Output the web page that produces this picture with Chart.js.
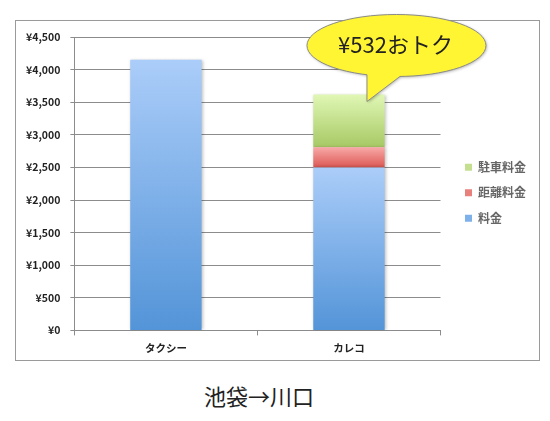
<!DOCTYPE html>
<html>
<head>
<meta charset="utf-8">
<script src="https://cdn.jsdelivr.net/npm/chart.js@4"></script>
<style>
  body { margin: 0; background: #fff; }
  #wrap { position: absolute; left: 0; top: 0; width: 550px; height: 372px; }
  #caption {
    position: absolute; left: 0; top: 382px; width: 518px;
    text-align: center; font: 22px/26px "Noto Sans CJK JP", sans-serif; color: #222;
  }
</style>
</head>
<body>
<div id="wrap"><canvas id="fareChart"></canvas></div>
<div id="caption">池袋→川口</div>
<script>
// Fare comparison data
const categories = ['タクシー', 'カレコ'];
const fare = [4150, 2500];      // 料金
const distanceFee = [0, 310];   // 距離料金
const parkingFee = [0, 808];    // 駐車料金
const yTicks = [0, 500, 1000, 1500, 2000, 2500, 3000, 3500, 4000, 4500];

const totals = categories.map((_, i) => fare[i] + distanceFee[i] + parkingFee[i]);
const savings = totals[0] - totals[1];

// Vertical gradient over one stacked segment
function segmentGradient(topColor, bottomColor) {
    return function (ctx) {
        const chart = ctx.chart;
        if (!chart.chartArea || ctx.dataIndex === undefined) return bottomColor;
        const y = chart.scales.y;
        const sets = chart.data.datasets;
        let base = 0;
        for (let k = 0; k < ctx.datasetIndex; k++) base += sets[k].data[ctx.dataIndex];
        const top = base + sets[ctx.datasetIndex].data[ctx.dataIndex];
        const y0 = y.getPixelForValue(top);
        const y1 = y.getPixelForValue(base);
        if (!(y1 > y0)) return bottomColor;
        const g = chart.ctx.createLinearGradient(0, y0, 0, y1);
        g.addColorStop(0, topColor);
        g.addColorStop(1, bottomColor);
        return g;
    };
}

// Outer frame around the plot + legend
const framePlugin = {
    id: 'frame',
    beforeDraw(chart) {
        const c = chart.ctx;
        c.save();
        c.strokeStyle = '#9a9a9a';
        c.lineWidth = 1;
        c.strokeRect(15.5, 20.5, 524, 340);
        c.restore();
    }
};

// Soft shadow under the bars
const shadowPlugin = {
    id: 'barShadow',
    beforeDatasetsDraw(chart) {
        const c = chart.ctx;
        c.save();
        c.shadowColor = 'rgba(0,0,0,0.25)';
        c.shadowBlur = 3;
        c.shadowOffsetX = 1;
    },
    afterDatasetsDraw(chart) {
        chart.ctx.restore();
    }
};

// Speech bubble above the カレコ bar
const bubblePlugin = {
    id: 'bubble',
    afterDraw(chart) {
        const bar = chart.getDatasetMeta(2).data[1];
        if (!bar) return;
        const c = chart.ctx;
        const cx = bar.x + 47.5, cy = bar.y - 49, rx = 89.5, ry = 31;
        const edgeY = dx => cy + ry * Math.sqrt(1 - (dx / rx) * (dx / rx));
        const lx = bar.x + 18, rxp = bar.x + 51;
        const tip = { x: bar.x + 18, y: bar.y + 7 };
        const ly = edgeY(lx - cx), ry2 = edgeY(rxp - cx);

        c.save();
        c.fillStyle = '#fff533';
        c.strokeStyle = '#8a8a8a';
        c.lineWidth = 1;
        c.shadowColor = 'rgba(0,0,0,0.3)';
        c.shadowBlur = 3;
        c.shadowOffsetX = 1;
        c.shadowOffsetY = 1;
        c.beginPath();
        c.ellipse(cx, cy, rx, ry, 0, 0, Math.PI * 2);
        c.moveTo(lx, ly);
        c.lineTo(tip.x, tip.y);
        c.lineTo(rxp, ry2);
        c.fill();
        c.shadowColor = 'transparent';
        c.beginPath();
        c.ellipse(cx, cy, rx, ry, 0, 0, Math.PI * 2);
        c.stroke();
        // tail, covering the ellipse outline at its base
        c.beginPath();
        c.moveTo(lx, ly - 4);
        c.lineTo(lx, ly);
        c.lineTo(tip.x, tip.y);
        c.lineTo(rxp, ry2);
        c.lineTo(rxp, ry2 - 4);
        c.closePath();
        c.fill();
        c.beginPath();
        c.moveTo(lx, ly);
        c.lineTo(tip.x, tip.y);
        c.lineTo(rxp, ry2);
        c.stroke();

        c.fillStyle = '#222';
        c.font = '22px "Noto Sans CJK JP", sans-serif';
        c.textAlign = 'center';
        c.textBaseline = 'middle';
        c.fillText('¥' + savings + 'おトク', cx - 1, cy - 1);
        c.restore();
    }
};

const tickFont = { family: '"Noto Sans CJK JP", sans-serif', size: 10.5, weight: 'bold' };

new Chart(document.getElementById('fareChart'), {
    type: 'bar',
    data: {
        labels: categories,
        datasets: [
            { label: '料金', data: fare, backgroundColor: segmentGradient('#abcdf9', '#5394d8'), legendColor: '#7eb0ea' },
            { label: '距離料金', data: distanceFee, backgroundColor: segmentGradient('#f8aaa8', '#dc5854'), legendColor: '#e8807c' },
            { label: '駐車料金', data: parkingFee, backgroundColor: segmentGradient('#e0f7b5', '#a7c964'), legendColor: '#c3df8f' }
        ]
    },
    options: {
        responsive: true,
        maintainAspectRatio: false,
        animation: false,
        layout: { padding: { left: 16, top: 37, right: 14, bottom: 12 } },
        datasets: { bar: { categoryPercentage: 1, barPercentage: 0.39 } },
        scales: {
            x: {
                stacked: true,
                grid: { offset: true, drawOnChartArea: false, tickLength: 5, color: '#8c8c8c' },
                border: { color: '#8c8c8c' },
                ticks: { font: tickFont, color: '#222', padding: 6 }
            },
            y: {
                stacked: true,
                min: 0,
                max: 4500,
                afterBuildTicks: scale => { scale.ticks = yTicks.map(v => ({ value: v })); },
                grid: { color: '#8c8c8c', tickLength: 4 },
                border: { color: '#8c8c8c' },
                ticks: {
                    font: tickFont,
                    color: '#222',
                    padding: 10,
                    callback: v => '¥' + v.toLocaleString('en-US')
                }
            },
            spacer: {
                position: 'right',
                grid: { display: false },
                border: { display: false },
                ticks: { display: false },
                afterFit: s => { s.width = 11; }
            }
        },
        plugins: {
            legend: {
                position: 'right',
                fullSize: false,
                reverse: true,
                // blank title only nudges the entries down a little
                title: { display: true, text: ' ', font: { size: 10 }, padding: { top: 0, bottom: 6 } },
                labels: {
                    boxWidth: 7,
                    boxHeight: 7,
                    padding: 13.5,
                    color: '#222',
                    font: { family: '"Noto Sans CJK JP", sans-serif', size: 12, weight: 'bold' },
                    generateLabels: chart => chart.data.datasets.map((ds, i) => ({
                        text: ds.label,
                        fillStyle: ds.legendColor,
                        strokeStyle: ds.legendColor,
                        lineWidth: 0,
                        datasetIndex: i
                    }))
                }
            },
            tooltip: { enabled: false }
        }
    },
    plugins: [framePlugin, shadowPlugin, bubblePlugin]
});
</script>
</body>
</html>
